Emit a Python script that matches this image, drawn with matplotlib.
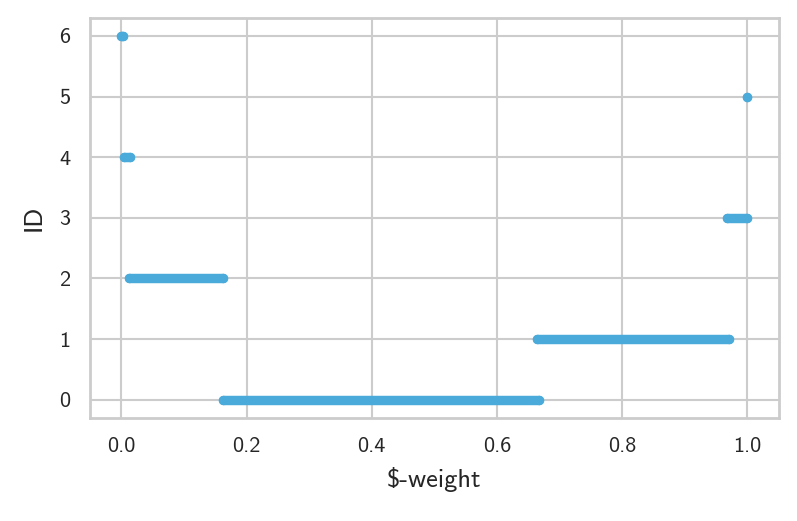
import matplotlib
matplotlib.use("Agg")
import seaborn as sns
from matplotlib import pyplot as plt

# segments of $-weight per ID (start, end)
ids = [0, 1, 2, 3, 4, 5, 6]
w_start = [0.162, 0.664, 0.013, 0.968, 0.005, 1.0, 0.000]
w_end = [0.667, 0.971, 0.163, 1.000, 0.014, 1.0, 0.003]

sns.set_theme(style="whitegrid")
plt.rcParams['font.family'] = ['cmss10', 'DejaVu Sans']
plt.rcParams['axes.unicode_minus'] = False
plt.rcParams['mathtext.fontset'] = 'cm'

COL = '#4aabdb'
fig, ax = plt.subplots(figsize=(7.97, 5.21), dpi=100)
for i, s, e in zip(ids, w_start, w_end):
    ax.plot([s, e], [i, i], '-o', color=COL, lw=6.8, ms=6.8,
            solid_capstyle='round', mew=0)

ax.set_xlim(-0.05, 1.05)
ax.set_ylim(-0.3, 6.3)
ax.set_xticks([0.0, 0.2, 0.4, 0.6, 0.8, 1.0])
ax.set_yticks(ids)
ax.tick_params(labelsize=16, pad=8)
ax.grid(lw=1.5, color='#cccccc')
ax.set_xlabel(r'\$-weight', fontsize=19, labelpad=8)
ax.set_ylabel('ID', fontsize=19, labelpad=10)
for sp in ax.spines.values():
    sp.set_linewidth(2.0)
    sp.set_color('#cccccc')
fig.subplots_adjust(left=0.113, right=0.977, top=0.966, bottom=0.198)
fig.savefig('out.png', dpi=100)
